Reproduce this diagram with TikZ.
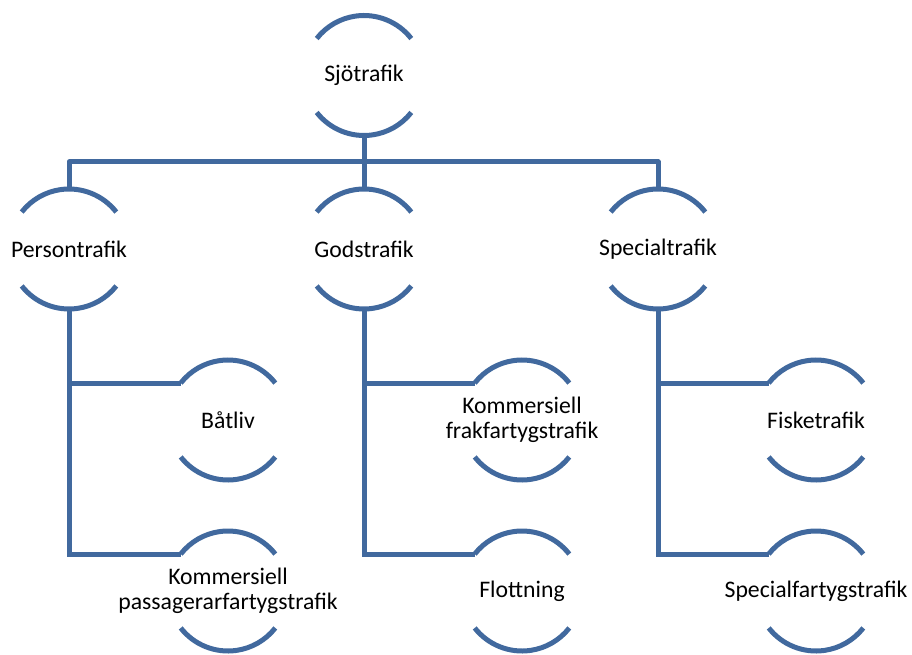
\documentclass[tikz,border=0pt]{standalone}
\usepackage{fontspec}
\setmainfont{Carlito}
\definecolor{ringblue}{RGB}{65,105,158}
\tikzset{
  ring/.style={circle, minimum size=90pt, inner sep=0pt, outer sep=0pt},
  ringtext/.style={align=center, font=\fontsize{17.8}{19}\selectfont, inner sep=0pt, text=black},
  conn/.style={draw=ringblue, line width=3.75pt},
}
\newcommand\ringarcs[1]{%
  \draw[conn] (#1.38) arc[start angle=38,end angle=142,radius=45pt];
  \draw[conn] (#1.218) arc[start angle=218,end angle=322,radius=45pt];}
\begin{document}
\begin{tikzpicture}[x=0.75pt,y=0.75pt]
\useasboundingbox (0,0) rectangle (912,-655);
% ring nodes
\node[ring] (s)  at (364,-75.5) {};
\node[ring] (p)  at (69,-249) {};
\node[ring] (g)  at (364,-249) {};
\node[ring] (sp) at (658,-249) {};
\node[ring] (b)  at (228,-420) {};
\node[ring] (kp) at (228,-591) {};
\node[ring] (kf) at (522,-420) {};
\node[ring] (fl) at (522,-591) {};
\node[ring] (fi) at (816,-420) {};
\node[ring] (sf) at (816,-591) {};
\foreach \n in {s,p,g,sp,b,kp,kf,fl,fi,sf}{\ringarcs{\n}}
% texts
\node[ringtext] (s-t)  at (s)  {Sjötrafik};
\node[ringtext] (p-t)  at (p)  {Persontrafik};
\node[ringtext] (g-t)  at (g)  {Godstrafik};
\node[ringtext] (sp-t) at (sp) {Specialtrafik};
\node[ringtext] (b-t)  at (b)  {Båtliv};
\node[ringtext] (kp-t) at (kp) {Kommersiell\\passagerarfartygstrafik};
\node[ringtext] (kf-t) at (kf) {Kommersiell\\frakfartygstrafik};
\node[ringtext] (fl-t) at (fl) {Flottning};
\node[ringtext] (fi-t) at (fi) {Fisketrafik};
\node[ringtext] (sf-t) at (sf) {Specialfartygstrafik};
% connectors
\coordinate (bar) at (364,-162);
\draw[conn] (s.south) -- (g.north);
\draw[conn, line join=round] (p.north) |- (bar) -| (sp.north);
\draw[conn] (p.south) |- (b.142);
\draw[conn] (p.south) |- (kp.142);
\draw[conn] (g.south) |- (kf.142);
\draw[conn] (g.south) |- (fl.142);
\draw[conn] (sp.south) |- (fi.142);
\draw[conn] (sp.south) |- (sf.142);
\end{tikzpicture}
\end{document}
